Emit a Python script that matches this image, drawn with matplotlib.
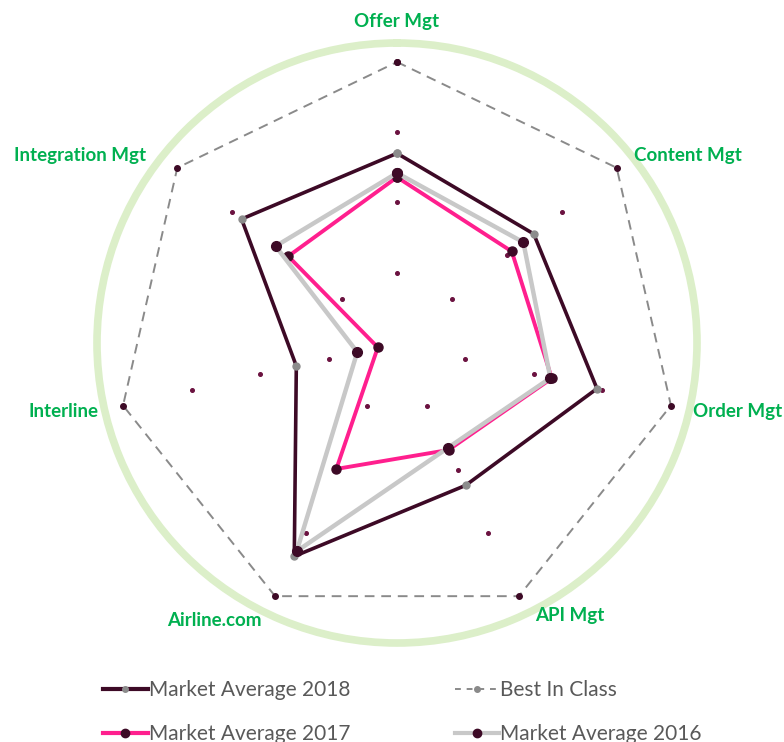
import numpy as np
import matplotlib.pyplot as plt
from matplotlib.lines import Line2D

# -------- data (scale 0..4, best in class = 4) --------
categories = ["Offer Mgt", "Content Mgt", "Order Mgt", "API Mgt",
              "Airline.com", "Interline", "Integration Mgt"]
avg_2018 = [2.70, 2.49, 2.92, 2.25, 3.37, 1.47, 2.83]
best_in_class = [4, 4, 4, 4, 4, 4, 4]
avg_2017 = [2.36, 2.09, 2.26, 1.69, 1.99, 0.28, 1.98]
avg_2016 = [2.42, 2.30, 2.24, 1.66, 3.29, 0.58, 2.21]
grid_levels = [1, 2, 3]

# label centres, pixels in the 784x742 picture
label_pos = [(397, 22), (688, 155), (738, 411), (570, 616),
             (214, 621), (63, 411), (80, 155)]

W, H = 784, 742
MAROON = "#3d0a26"
PINK = "#ff1f8e"
LGRAY = "#c8c8c8"
GREEN = "#00b050"

fig = plt.figure(figsize=(W / 100, H / 100), dpi=100)
ax = fig.add_axes([97 / W, 1 - 643 / H, 600 / W, 600 / H], projection="polar")
ax.set_theta_offset(np.pi / 2)
ax.set_theta_direction(-1)
ax.set_ylim(0, 4 * 300 / 281)
ax.grid(False)
ax.set_xticks([])
ax.set_yticks([])
ax.spines["polar"].set_color("#dcefc9")
ax.spines["polar"].set_linewidth(5.5)

theta = np.arange(len(categories)) * 2 * np.pi / len(categories)
closed = np.append(theta, theta[0])


def close(v):
    return np.append(v, v[0])


# small dots on each axis
for lv in grid_levels:
    ax.plot(theta, [lv] * len(theta), ls="none", marker="o", ms=2.6,
            color="#6b1240", zorder=1)

ax.plot(closed, close(best_in_class), color="#8a8a8a", lw=1.4, ls=(0, (5, 3.5)),
        marker="o", ms=4, mfc=MAROON, mec=MAROON, zorder=2)
ax.plot(closed, close(avg_2018), color=MAROON, lw=2.6,
        marker="o", ms=5, mfc="#8c8c8c", mec="#8c8c8c", zorder=3)
ax.plot(closed, close(avg_2017), color=PINK, lw=2.8,
        marker="o", ms=6.5, mfc=MAROON, mec=MAROON, zorder=4)
ax.plot(closed, close(avg_2016), color=LGRAY, lw=3.2,
        marker="o", ms=7, mfc=MAROON, mec=MAROON, zorder=5)

for name, (px, py) in zip(categories, label_pos):
    fig.text(px / W, 1 - py / H, name, ha="center", va="center",
             color=GREEN, fontsize=13.5, fontweight="bold", family="Lato")

handles = [
    Line2D([], [], color=MAROON, lw=3, marker="o", ms=4, mfc="#8c8c8c", mec="#8c8c8c"),
    Line2D([], [], color=PINK, lw=3, marker="o", ms=6, mfc=MAROON, mec=MAROON),
    Line2D([], [], color="#8a8a8a", lw=1.4, ls=(0, (3, 3)), marker="o", ms=4,
           mfc="#8a8a8a", mec="#8a8a8a"),
    Line2D([], [], color=LGRAY, lw=3, marker="o", ms=6, mfc=MAROON, mec=MAROON),
]
labels = ["Market Average 2018", "Market Average 2017",
          "Best In Class", "Market Average 2016"]
leg = fig.legend(handles, labels, ncol=2, loc="upper left",
                 bbox_to_anchor=(103 / W, 1 - 680 / H), frameon=False,
                 borderpad=0, borderaxespad=0, handlelength=2.15,
                 handletextpad=0.05, columnspacing=5.0, labelspacing=1.15,
                 prop={"family": "Lato", "size": 15})
for t in leg.get_texts():
    t.set_color("#595959")

fig.savefig("out.png", dpi=100)
